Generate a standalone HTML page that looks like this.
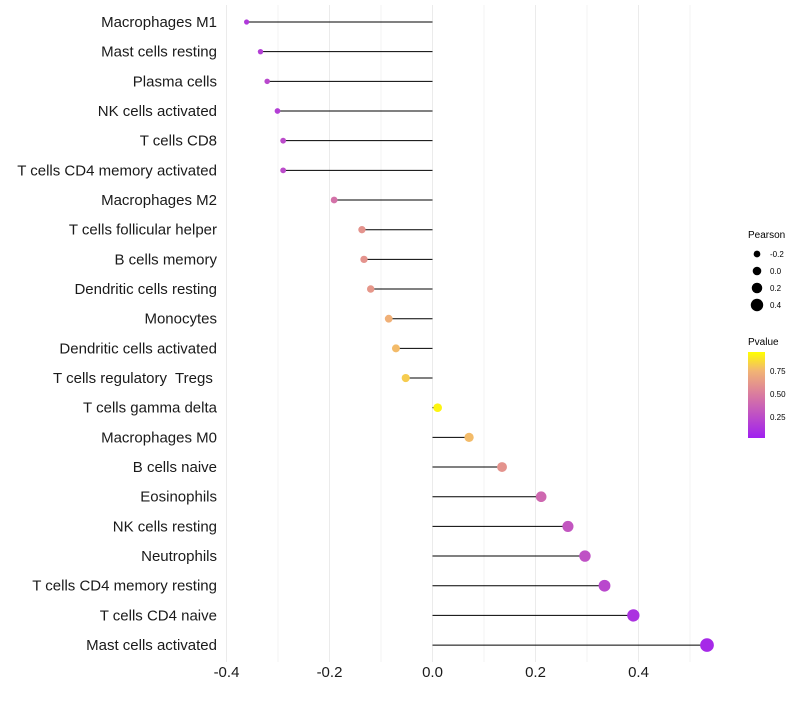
<!DOCTYPE html>
<html><head><meta charset="utf-8"><style>
body{margin:0;background:#fff;font-family:"Liberation Sans",sans-serif}
svg text{font-family:"Liberation Sans",sans-serif;white-space:pre}
</style></head><body>
<svg id="chart" width="800" height="700" xmlns="http://www.w3.org/2000/svg">
<defs><linearGradient id="pg" x1="0" y1="1" x2="0" y2="0">
<stop offset="0" stop-color="#a020f0"/><stop offset="0.5" stop-color="#d97aa0"/><stop offset="0.78" stop-color="#f2b474"/><stop offset="1" stop-color="#ffff00"/></linearGradient></defs>
<g id="grid"></g>
<g id="marks"></g>
<g id="ylabels"></g>
<g id="xlabels"></g>
<g>
<text x="748" y="238" font-size="10">Pearson</text>
<g id="sizeLegend"></g>
</g>
<g>
<text x="748" y="345" font-size="10">Pvalue</text>
<rect x="748" y="352" width="17" height="86" fill="url(#pg)"/>
<text x="770" y="374" font-size="8">0.75</text>
<text x="770" y="397" font-size="8">0.50</text>
<text x="770" y="420" font-size="8">0.25</text>
</g>
</svg>
<script>
const categories=["Macrophages M1","Mast cells resting","Plasma cells","NK cells activated","T cells CD8","T cells CD4 memory activated","Macrophages M2","T cells follicular helper","B cells memory","Dendritic cells resting","Monocytes","Dendritic cells activated","T cells regulatory  Tregs ","T cells gamma delta","Macrophages M0","B cells naive","Eosinophils","NK cells resting","Neutrophils","T cells CD4 memory resting","T cells CD4 naive","Mast cells activated"];
const pearson=[-0.361,-0.334,-0.321,-0.301,-0.290,-0.290,-0.191,-0.137,-0.133,-0.120,-0.085,-0.071,-0.052,0.010,0.071,0.135,0.211,0.263,0.296,0.334,0.390,0.533];
const pvalue=[0.14,0.17,0.22,0.17,0.24,0.24,0.45,0.62,0.62,0.64,0.76,0.8,0.85,0.97,0.8,0.62,0.4,0.3,0.27,0.22,0.1,0.05];
const xTicks=[-0.4,-0.2,0,0.2,0.4];
const xTickLabels=["-0.4","-0.2","0.0","0.2","0.4"];
const sizeLegend=[-0.2,0.0,0.2,0.4];
const NS="http://www.w3.org/2000/svg";
const x=v=>432.5+v*515;
const y=i=>22+i*29.67;
const r=v=>4.3+4.8*v;
const stops=[[0,[160,32,240]],[0.5,[217,122,160]],[0.78,[242,180,116]],[1,[255,255,0]]];
function col(p){for(let k=1;k<stops.length;k++){if(p<=stops[k][0]){const a=stops[k-1],b=stops[k];const t=(p-a[0])/(b[0]-a[0]);return "rgb("+a[1].map((c,j)=>Math.round(c+(b[1][j]-c)*t)).join(",")+")";}}return "rgb(255,255,0)";}
function mk(t,a,parent){const e=document.createElementNS(NS,t);for(const k in a)e.setAttribute(k,a[k]);document.getElementById(parent).appendChild(e);return e;}
for(let g=-0.4;g<=0.51;g+=0.1){const gl=mk("line",{x1:x(g),x2:x(g),y1:5,y2:662,stroke:"#ebebeb","stroke-width":Math.abs(Math.round(g*10))%2==0?1:0.6},"grid");

}
categories.forEach((c,i)=>{
const l=mk("line",{x1:x(0),x2:x(pearson[i]),y1:y(i),y2:y(i),stroke:"#000","stroke-width":1},"marks");


const d=mk("circle",{cx:x(pearson[i]),cy:y(i),r:r(pearson[i]),fill:col(pvalue[i])},"marks");


const t=mk("text",{x:217,y:y(i)+5,"font-size":15,"text-anchor":"end",fill:"#1a1a1a"},"ylabels");t.textContent=c;


});
xTicks.forEach((v,i)=>{const t=mk("text",{x:x(v),y:677,"font-size":15,"text-anchor":"middle",fill:"#1a1a1a"},"xlabels");t.textContent=xTickLabels[i];

});
sizeLegend.forEach((v,i)=>{const cy=254+i*17;const c=mk("circle",{cx:757,cy:cy,r:r(v),fill:"#000"},"sizeLegend");


const t=mk("text",{x:770,y:cy+3,"font-size":8},"sizeLegend");t.textContent=v.toFixed(1);

});
</script>
</body></html>
